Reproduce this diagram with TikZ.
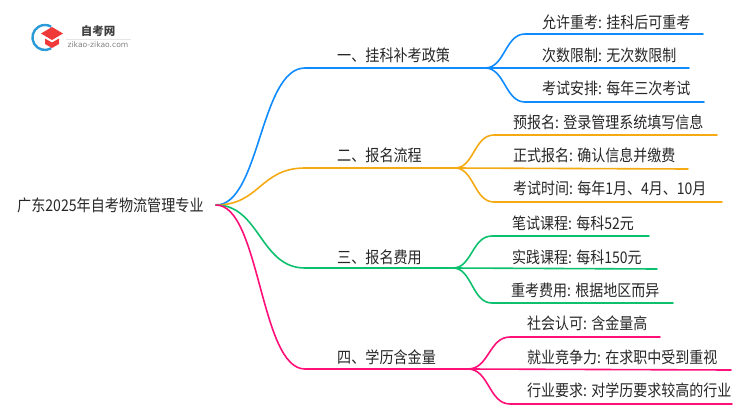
\documentclass[tikz,border=0pt]{standalone}
\usepackage{fontspec}
\setmainfont{Noto Sans CJK SC}
\setsansfont{DejaVu Sans}
\usetikzlibrary{positioning}
\definecolor{bluebr}{HTML}{0F8BFF}
\definecolor{orangebr}{HTML}{F5AA14}
\definecolor{greenbr}{HTML}{0CC06E}
\definecolor{pinkbr}{HTML}{FF0F78}
\definecolor{logored}{HTML}{F03A3A}
\definecolor{logoblue}{HTML}{2A9BD8}
\tikzset{
  rootlabel/.style={anchor=west,inner sep=0pt,yscale=1.15,transform shape,text=black!85,font=\fontsize{14.1}{17}\selectfont},
  brlabel/.style={anchor=west,inner sep=0pt,yscale=1.15,transform shape,text=black!85,font=\fontsize{14.1}{17}\selectfont},
  leaflabel/.style={anchor=west,inner sep=0pt,yscale=1.15,transform shape,text=black!85,font=\fontsize{14}{17}\selectfont},
  brline/.style={line width=1.6pt,line cap=round},
}
\begin{document}
\begin{tikzpicture}[x=1pt,y=-1pt]
\useasboundingbox (0,0) rectangle (750,410);
% logo
\draw[logoblue,line width=2.4pt] (51.2,48.3) arc (60:300:12.5 and 12.5);
\fill[logored] (52,27) -- (63,33.5) -- (52,40) -- (41,33.5) -- cycle;
\fill[logored] (45,38.5) -- (52,42.5) -- (59,38.5) -- (59,44) -- (52,48) -- (45,44) -- cycle;
\node[inner sep=0pt,text=black!75,font=\fontsize{11.5}{13}\selectfont\bfseries] (logotitle) at (98,31) {自考网};
\node[inner sep=0pt,text=black!50,font=\sffamily\fontsize{7.6}{9}\selectfont] (logourl) at (98,45) {zikao-zikao.com};
\draw[black!10,line width=0.6pt] (66,39) -- (131,39);
% root
\node[rootlabel] (root) at (17,205) {广东2025年自考物流管理专业};
\coordinate (hub) at (216,205);
% branch 1
\node[brlabel] (b1) at (337,55) {一、挂科补考政策};
\coordinate (b1s) at (305,68);
\coordinate (b1e) at (485,68);
\draw[brline,bluebr] (hub) .. controls (260,205) and (260,68) .. (b1s) -- (b1e);
\node[leaflabel] (l11) at (542,22) {允许重考: 挂科后可重考};
\node[leaflabel] (l12) at (542,55) {次数限制: 无次数限制};
\node[leaflabel] (l13) at (542,88) {考试安排: 每年三次考试};
\coordinate (l11s) at (525,34);
\coordinate (l11e) at (703,34);
\coordinate (l12e) at (689,68);
\coordinate (l13s) at (525,102);
\coordinate (l13e) at (704,102);
\draw[brline,bluebr] (b1e) .. controls (505,68) and (505,34) .. (l11s) -- (l11e);
\draw[brline,bluebr] (b1e) -- (l12e);
\draw[brline,bluebr] (b1e) .. controls (505,68) and (505,102) .. (l13s) -- (l13e);
% branch 2
\node[brlabel] (b2) at (337,155) {二、报名流程};
\coordinate (b2s) at (305,168);
\coordinate (b2e) at (455,168);
\draw[brline,orangebr] (hub) .. controls (260,205) and (260,168) .. (b2s) -- (b2e);
\node[leaflabel] (l21) at (513,122) {预报名: 登录管理系统填写信息};
\node[leaflabel] (l22) at (513,155) {正式报名: 确认信息并缴费};
\node[leaflabel] (l23) at (513,188) {考试时间: 每年1月、4月、10月};
\coordinate (l21s) at (494,135);
\coordinate (l21e) at (717,135);
\coordinate (l22e) at (688,169);
\coordinate (l23s) at (494,202);
\coordinate (l23e) at (722,202);
\draw[brline,orangebr] (b2e) .. controls (474,168) and (474,135) .. (l21s) -- (l21e);
\draw[brline,orangebr] (b2e) -- (l22e);
\draw[brline,orangebr] (b2e) .. controls (474,168) and (474,202) .. (l23s) -- (l23e);
% branch 3
\node[brlabel] (b3) at (337,257) {三、报名费用};
\coordinate (b3s) at (305,268);
\coordinate (b3e) at (453,268);
\draw[brline,greenbr] (hub) .. controls (260,205) and (260,268) .. (b3s) -- (b3e);
\node[leaflabel] (l31) at (512,223) {笔试课程: 每科52元};
\node[leaflabel] (l32) at (512,257) {实践课程: 每科150元};
\node[leaflabel] (l33) at (511,290) {重考费用: 根据地区而异};
\coordinate (l31s) at (492,236);
\coordinate (l31e) at (649,236);
\coordinate (l32e) at (657,269);
\coordinate (l33s) at (492,303);
\coordinate (l33e) at (673,303);
\draw[brline,greenbr] (b3e) .. controls (472,268) and (472,236) .. (l31s) -- (l31e);
\draw[brline,greenbr] (b3e) -- (l32e);
\draw[brline,greenbr] (b3e) .. controls (472,268) and (472,303) .. (l33s) -- (l33e);
% branch 4
\node[brlabel] (b4) at (337,357) {四、学历含金量};
\coordinate (b4s) at (305,369);
\coordinate (b4e) at (468,369);
\draw[brline,pinkbr] (hub) .. controls (260,205) and (260,369) .. (b4s) -- (b4e);
\node[leaflabel] (l41) at (527,323) {社会认可: 含金量高};
\node[leaflabel] (l42) at (527,357) {就业竞争力: 在求职中受到重视};
\node[leaflabel] (l43) at (527,390) {行业要求: 对学历要求较高的行业};
\coordinate (l41s) at (510,337);
\coordinate (l41e) at (660,337);
\coordinate (l42e) at (731,370);
\coordinate (l43s) at (510,404);
\coordinate (l43e) at (732,404);
\draw[brline,pinkbr] (b4e) .. controls (489,369) and (489,337) .. (l41s) -- (l41e);
\draw[brline,pinkbr] (b4e) -- (l42e);
\draw[brline,pinkbr] (b4e) .. controls (489,369) and (489,404) .. (l43s) -- (l43e);
\end{tikzpicture}
\end{document}
